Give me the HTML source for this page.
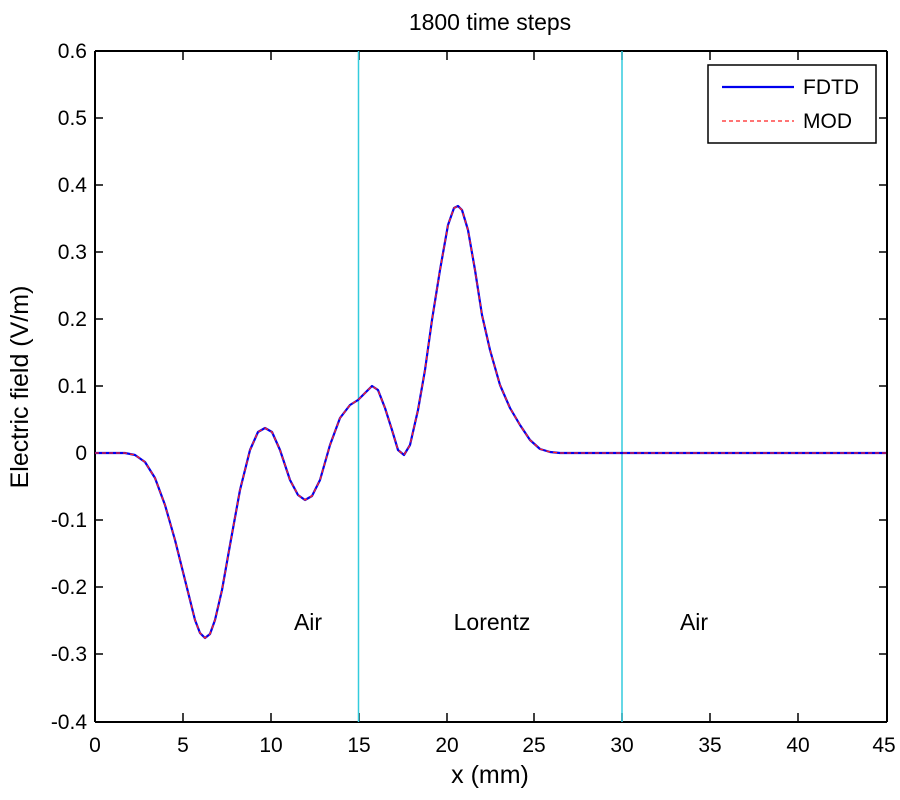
<!DOCTYPE html>
<html><head><style>body{margin:0;background:#fff}svg{display:block}text{font-family:"Liberation Sans",sans-serif;fill:#000}</style></head>
<body>
<svg width="900" height="800" viewBox="0 0 900 800">
<rect width="900" height="800" fill="#fff"/>
<text x="490" y="30" font-size="23" text-anchor="middle">1800 time steps</text>
<g stroke="#000" stroke-width="2">
<line x1="95" y1="51" x2="95" y2="722"/><line x1="95" y1="722" x2="887" y2="722"/>
<line x1="95" y1="51" x2="887" y2="51"/><line x1="887" y1="51" x2="887" y2="722"/>
</g>
<g stroke="#000" stroke-width="1.5">
<path d="M183,722v-9M271,722v-9M359,722v-9M447,722v-9M534,722v-9M622,722v-9M710,722v-9M798,722v-9
M183,51v9M271,51v9M359,51v9M447,51v9M534,51v9M622,51v9M710,51v9M798,51v9
M95,118h8M95,185h8M95,252h8M95,319h8M95,386h8M95,453h8M95,520h8M95,587h8M95,654h8
M887,118h-8M887,185h-8M887,252h-8M887,319h-8M887,386h-8M887,453h-8M887,520h-8M887,587h-8M887,654h-8"/>
</g>
<g font-size="21" text-anchor="end">
<text x="87" y="58">0.6</text><text x="87" y="125">0.5</text><text x="87" y="192">0.4</text><text x="87" y="259">0.3</text><text x="87" y="326">0.2</text><text x="87" y="393">0.1</text><text x="87" y="460">0</text><text x="87" y="527">-0.1</text><text x="87" y="594">-0.2</text><text x="87" y="661">-0.3</text><text x="87" y="729">-0.4</text>
</g>
<g font-size="21" text-anchor="middle">
<text x="95" y="752">0</text><text x="183" y="752">5</text><text x="271" y="752">10</text><text x="359" y="752">15</text><text x="447" y="752">20</text><text x="534" y="752">25</text><text x="622" y="752">30</text><text x="710" y="752">35</text><text x="798" y="752">40</text><text x="884" y="752">45</text>
</g>
<text x="490" y="783" font-size="25" text-anchor="middle">x (mm)</text>
<text transform="translate(28,387) rotate(-90)" font-size="25" text-anchor="middle">Electric field (V/m)</text>
<line x1="358.5" y1="51" x2="358.5" y2="722" stroke="#33ccdd" stroke-width="1.5"/>
<line x1="622" y1="51" x2="622" y2="722" stroke="#33ccdd" stroke-width="1.5"/>
<g font-size="23" text-anchor="middle">
<text x="308" y="630">Air</text><text x="492" y="630">Lorentz</text><text x="694" y="630">Air</text>
</g>
<polyline fill="none" stroke="#0000ee" stroke-width="2.2" stroke-linejoin="round" points="95,453 125,453 135,455 145,462 155,478 165,505 175,540 185,580 195,620 200,633 205,638 210,634 215,620 222,590 230,545 240,490 250,450 258,432 265,428 272,432 280,450 290,480 298,495 305,500 312,496 320,480 330,445 340,418 350,405 358,400 365,393 372,386 378,390 385,408 392,430 398,450 404,455 410,445 418,410 425,370 432,320 440,270 448,225 454,208 458,206 462,210 468,230 475,270 482,315 490,350 500,385 510,408 520,425 530,440 540,449 550,452 560,453 886,453"/>
<polyline fill="none" stroke="#ff2222" stroke-width="1.3" stroke-linejoin="round" stroke-dasharray="4,3" points="95,453 125,453 135,455 145,462 155,478 165,505 175,540 185,580 195,620 200,633 205,638 210,634 215,620 222,590 230,545 240,490 250,450 258,432 265,428 272,432 280,450 290,480 298,495 305,500 312,496 320,480 330,445 340,418 350,405 358,400 365,393 372,386 378,390 385,408 392,430 398,450 404,455 410,445 418,410 425,370 432,320 440,270 448,225 454,208 458,206 462,210 468,230 475,270 482,315 490,350 500,385 510,408 520,425 530,440 540,449 550,452 560,453 886,453"/>
<rect x="708" y="65" width="168" height="78" fill="#fff" stroke="#000" stroke-width="1.5"/>
<line x1="722" y1="87" x2="794" y2="87" stroke="#0000ee" stroke-width="2.2"/>
<line x1="722" y1="121" x2="794" y2="121" stroke="#ff2222" stroke-width="1.3" stroke-dasharray="4,3"/>
<text x="803" y="94" font-size="21">FDTD</text>
<text x="803" y="128" font-size="21">MOD</text>
</svg>
</body></html>
